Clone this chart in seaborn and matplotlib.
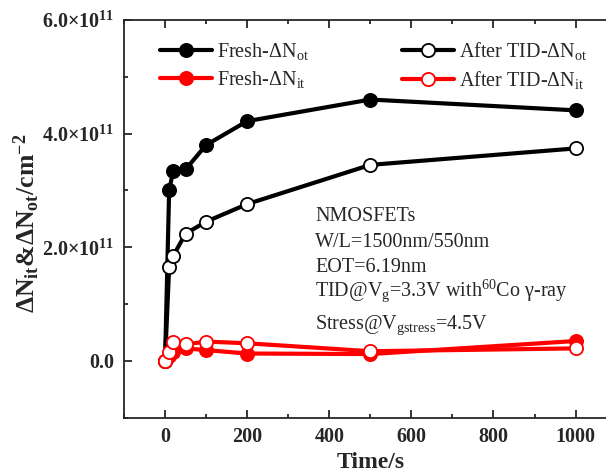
import numpy as np
import pandas as pd
import matplotlib
matplotlib.use("Agg")
import matplotlib.pyplot as plt
from matplotlib.ticker import MultipleLocator, FixedLocator, FixedFormatter
import seaborn as sns

# ---- data ----
time_s = [0, 10, 20, 50, 100, 200, 500, 1000]
fresh_not = [0.0, 3.00e11, 3.35e11, 3.37e11, 3.80e11, 4.22e11, 4.60e11, 4.41e11]
after_not = [0.0, 1.65e11, 1.85e11, 2.24e11, 2.45e11, 2.76e11, 3.45e11, 3.74e11]
fresh_nit = [0.0, 0.08e11, 0.16e11, 0.22e11, 0.19e11, 0.13e11, 0.12e11, 0.35e11]
after_nit = [0.0, 0.15e11, 0.33e11, 0.29e11, 0.34e11, 0.31e11, 0.17e11, 0.22e11]

series_labels = [r"Fresh-ΔN$_{\rm ot}$", r"After TID-ΔN$_{\rm ot}$",
                 r"Fresh-ΔN$_{\rm it}$", r"After TID-ΔN$_{\rm it}$"]
xtick_vals = [0, 200, 400, 600, 800, 1000]
ytick_vals = [0, 2e11, 4e11, 6e11]
ytick_labels = ["0.0", r"2.0×10$^{\mathbf{11}}$",
                r"4.0×10$^{\mathbf{11}}$", r"6.0×10$^{\mathbf{11}}$"]
annot_lines = ["NMOSFETs", "W/L=1500nm/550nm", "EOT=6.19nm",
               r"TID@V$_{\rm g}$=3.3V with$^{60}$Co γ-ray",
               r"Stress@V$_{\rm gstress}$=4.5V"]

sns.set_theme(style="ticks")
plt.rcParams.update({
    "font.family": ["Liberation Serif", "DejaVu Serif"],
    "mathtext.fontset": "custom",
    "mathtext.rm": "Liberation Serif",
    "mathtext.it": "Liberation Serif:italic",
    "mathtext.bf": "Liberation Serif:bold",
    "axes.linewidth": 1.3,
})

fig = plt.figure(figsize=(6.06, 4.73), dpi=100)
ax = fig.add_axes([0.2046, 0.1169, 0.813, 0.8408])

styles = [
    (fresh_not, "black", "black"),
    (after_not, "black", "white"),
    (fresh_nit, "red", "red"),
    (after_nit, "red", "white"),
]
lines = []
for (yvals, col, fc) in styles:
    df = pd.DataFrame({"t": time_s, "v": yvals})
    sns.lineplot(data=df, x="t", y="v", ax=ax, color=col, marker="o",
                 markersize=9.5, markerfacecolor=fc, markeredgecolor=col,
                 markeredgewidth=1.3, linewidth=3, legend=False)
    lines.append(ax.get_lines()[-1])

ax.set_xlim(-100, 1100)
ax.set_ylim(-1e11, 6e11)
ax.xaxis.set_major_locator(FixedLocator(xtick_vals))
ax.xaxis.set_minor_locator(MultipleLocator(100))
ax.yaxis.set_major_locator(FixedLocator(ytick_vals))
ax.yaxis.set_major_formatter(FixedFormatter(ytick_labels))
ax.yaxis.set_minor_locator(MultipleLocator(1e11))
ax.tick_params(which="both", direction="in", top=True, right=False, width=1.3)
ax.tick_params(which="major", length=6, labelsize=14.5, pad=7)
ax.tick_params(which="minor", length=3)
for lab in ax.get_xticklabels() + ax.get_yticklabels():
    lab.set_fontweight("bold")
ax.spines["right"].set_visible(False)

ax.set_xlabel("Time/s", fontsize=17, fontweight="bold")
ax.xaxis.set_label_coords(0.5, -0.086)
ax.set_ylabel(r"ΔN$_{\mathbf{it}}$&ΔN$_{\mathbf{ot}}$/cm$^{\mathbf{-2}}$",
              fontsize=18.5, fontweight="bold")
ax.yaxis.set_label_coords(-0.166, 0.49)

order = [0, 2, 1, 3]
ax.legend([lines[i] for i in order], [series_labels[i] for i in order],
          ncol=2, frameon=False, loc="upper left", bbox_to_anchor=(0.052, 0.975),
          fontsize=14.5, handlelength=2.6, handletextpad=0.25, columnspacing=4.6,
          labelspacing=0.35, borderpad=0, numpoints=1)

baselines = [0.4936, 0.430, 0.367, 0.306, 0.223]
for txt, yb in zip(annot_lines, baselines):
    ax.text(0.388, yb, txt, transform=ax.transAxes, fontsize=14.5,
            ha="left", va="baseline")

fig.savefig("out.png", dpi=100)
